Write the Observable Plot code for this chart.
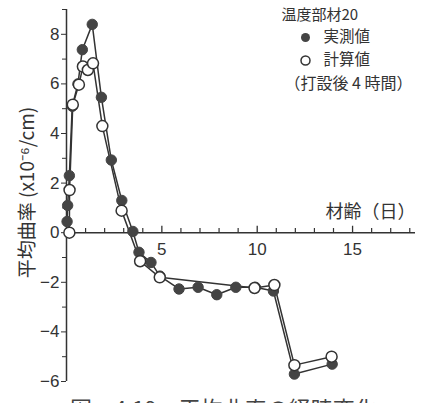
<!DOCTYPE html>
<html>
<head>
<meta charset="utf-8">
<script src="https://cdn.jsdelivr.net/npm/d3@7"></script>
<script src="https://cdn.jsdelivr.net/npm/@observablehq/plot@0.6"></script>
<style>
  body { margin: 0; background: #fff; overflow: hidden; }
  #chart { position: relative; width: 426px; }
  #caption { font-family: "Noto Sans CJK JP", sans-serif; font-size: 22px; color: #444; margin: 6px 0 0 70px; line-height: 22px; white-space: nowrap; }
</style>
</head>
<body>
<div id="chart"></div>
<div id="caption">図－4.19　平均曲率の経時変化</div>
<script>
// 実測値 (measured)
const measDays = [0.03, 0.06, 0.15, 0.3, 0.6, 0.83, 1.35, 1.83, 2.35, 2.9, 3.48, 3.8, 4.43, 4.9, 5.9, 6.9, 7.88, 8.88, 9.9, 10.85, 11.95, 13.93];
const measVals = [0.45, 1.1, 2.3, 5.1, 6.0, 7.38, 8.4, 5.46, 2.93, 1.3, 0.05, -0.79, -1.2, -1.75, -2.27, -2.2, -2.5, -2.2, -2.2, -2.35, -5.7, -5.3];
// 計算値 (calculated)
const calcDays = [0.15, 0.16, 0.33, 0.65, 0.86, 1.12, 1.39, 1.88, 2.89, 3.86, 4.89, 9.86, 10.9, 11.95, 13.9];
const calcVals = [0.0, 1.72, 5.16, 5.97, 6.7, 6.56, 6.83, 4.3, 0.89, -1.15, -1.8, -2.23, -2.11, -5.34, -5.0];

const yMajor = [-6, -4, -2, 0, 2, 4, 6, 8];
const yMinor = [-5, -3, -1, 1, 3, 5, 7, 9];
const xMajor = [5, 10, 15];
const xMinor = [1, 2, 3, 4, 6, 7, 8, 9, 11, 12, 13, 14, 16, 17, 18];
const xLabel = "材齢（日）";
const yLabel = "平均曲率 (x10⁻⁶/cm)";
const legendTitle = "温度部材20";
const legendMeas = "実測値";
const legendCalc = "計算値";
const legendNote = "（打設後 4 時間）";

const meas = measDays.map((d, i) => ({x: d, y: measVals[i]}));
const calc = calcDays.map((d, i) => ({x: d, y: calcVals[i]}));

const ink = "#333";
const font = "'Liberation Sans', 'Noto Sans CJK JP', sans-serif";
const cjk = "'Noto Sans CJK JP', sans-serif";

const chart = Plot.plot({
  width: 426,
  height: 390,
  marginLeft: 66,
  marginRight: 11,
  marginTop: 9,
  marginBottom: 9,
  style: {fontFamily: font, fontSize: "17px", color: ink, background: "#fff", overflow: "visible"},
  x: {domain: [0, 18.3], axis: null},
  y: {domain: [-6, 9], axis: null},
  marks: [
    // y axis
    Plot.ruleX([0], {y1: -6, y2: 9, stroke: ink, strokeWidth: 1.5}),
    Plot.axisY(yMajor, {anchor: "left", tickSize: 5, tickPadding: 2, fontSize: 17, stroke: ink, fill: ink, label: null}),
    Plot.axisY(yMinor, {anchor: "left", tickSize: 4, tickFormat: () => "", stroke: ink, label: null}),
    // x axis at y = 0
    Plot.ruleY([0], {x1: 0, x2: 18.3, stroke: ink, strokeWidth: 1.5}),
    Plot.ruleX(xMajor, {x: d => d, y1: 0, y2: 0.26, stroke: ink, strokeWidth: 1.3}),
    Plot.ruleX(xMinor, {x: d => d, y1: 0, y2: 0.17, stroke: ink, strokeWidth: 1.2}),
    Plot.text(xMajor, {x: d => d, y: 0, text: d => String(d), dy: 17, fontSize: 17, fill: ink}),
    Plot.text([xLabel], {x: 18.3, y: 0, text: d => d, textAnchor: "end", lineAnchor: "middle", dy: -20, fontSize: 18, fontFamily: cjk, fill: ink}),
    // y label
    Plot.text([yLabel], {frameAnchor: "left", text: d => d, rotate: -90, textAnchor: "middle", lineAnchor: "middle", dx: -39, dy: -3, fontSize: 19, fontFamily: cjk, fill: ink}),
    // series lines
    Plot.line(meas, {x: "x", y: "y", stroke: ink, strokeWidth: 1.5}),
    Plot.line(calc, {x: "x", y: "y", stroke: ink, strokeWidth: 1.5}),
    Plot.dot(meas, {x: "x", y: "y", r: 5.2, fill: "#444", stroke: "#444", strokeWidth: 1}),
    Plot.dot(calc, {x: "x", y: "y", r: 5.5, fill: "#fff", stroke: ink, strokeWidth: 1.5}),
    // legend
    Plot.text([legendTitle], {frameAnchor: "top-left", text: d => d, dx: 215, dy: 6, lineAnchor: "middle", fontSize: 15, fontFamily: cjk, textAnchor: "start", fill: ink}),
    Plot.dot([legendMeas], {frameAnchor: "top-left", dx: 239, dy: 28, r: 4.5, fill: "#444"}),
    Plot.text([legendMeas], {frameAnchor: "top-left", text: d => d, dx: 257, dy: 28, lineAnchor: "middle", fontSize: 15.5, fontFamily: cjk, textAnchor: "start", fill: ink}),
    Plot.dot([legendCalc], {frameAnchor: "top-left", dx: 239, dy: 51, r: 4.5, fill: "#fff", stroke: ink, strokeWidth: 1.5}),
    Plot.text([legendCalc], {frameAnchor: "top-left", text: d => d, dx: 257, dy: 51, lineAnchor: "middle", fontSize: 15.5, fontFamily: cjk, textAnchor: "start", fill: ink}),
    Plot.text([legendNote], {frameAnchor: "top-left", text: d => d, dx: 218, dy: 74, lineAnchor: "middle", fontSize: 16, fontFamily: cjk, textAnchor: "start", fill: ink})
  ]
});
document.getElementById("chart").appendChild(chart);
</script>
</body>
</html>
